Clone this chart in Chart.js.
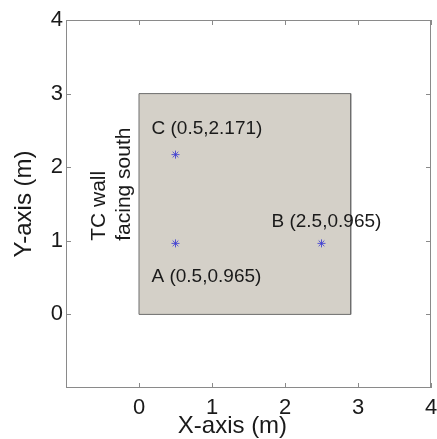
<!DOCTYPE html>
<html>
<head>
<meta charset="utf-8">
<script src="https://cdn.jsdelivr.net/npm/chart.js@4/dist/chart.umd.min.js"></script>
<style>
html,body{margin:0;padding:0;background:#fff;}
#wrap{width:437px;height:439px;}
</style>
</head>
<body>
<div id="wrap"><canvas id="c" width="437" height="439"></canvas></div>
<script>
// ---- data ----
const xTicks = [0, 1, 2, 3, 4];
const yTicks = [0, 1, 2, 3, 4];
const xRange = [-1, 4];
const yRange = [-1, 4];
const wallX = [0, 0, 2.9, 2.9, 0];
const wallY = [0, 3, 3, 0, 0];
const pointX = [0.5, 2.5, 0.5];
const pointY = [0.965, 0.965, 2.171];
const pointLabels = ['A (0.5,0.965)', 'B (2.5,0.965)', 'C (0.5,2.171)'];
const wallNoteLines = ['TC wall', 'facing south'];
const wallNoteX = [-0.55, -0.2];
const wallNoteY = [1, 1];
const xTitle = 'X-axis (m)';
const yTitle = 'Y-axis (m)';

// ---- styles (offsets in px, not data) ----
const labelOffsets = [[-24, 33], [-50, -22], [-24, -26]];
const FONT = "'Liberation Sans', Arial, sans-serif";
const TXT = '#1a1a1a';
const xTitleCenterValue = 1.28;

const wallPts = wallX.map((x, i) => ({x: x, y: wallY[i]}));

const annot = {
  id: 'annot',
  afterDatasetsDraw(chart) {
    const ctx = chart.ctx, xs = chart.scales.x, ys = chart.scales.y;
    ctx.save();
    ctx.fillStyle = TXT;
    ctx.font = '19px ' + FONT;
    ctx.textAlign = 'left';
    ctx.textBaseline = 'middle';
    pointLabels.forEach((t, i) => {
      const px = xs.getPixelForValue(pointX[i]) + labelOffsets[i][0];
      const py = ys.getPixelForValue(pointY[i]) + labelOffsets[i][1];
      ctx.fillText(t, px, py);
    });
    ctx.font = '21px ' + FONT;
    wallNoteLines.forEach((t, i) => {
      const px = xs.getPixelForValue(wallNoteX[i]);
      const py = ys.getPixelForValue(wallNoteY[i]);
      ctx.save();
      ctx.translate(px, py);
      ctx.rotate(-Math.PI / 2);
      ctx.textAlign = 'left';
      ctx.textBaseline = 'middle';
      ctx.fillText(t, 0, 0);
      ctx.restore();
    });
    // x-axis title
    ctx.font = '24px ' + FONT;
    ctx.textAlign = 'center';
    ctx.textBaseline = 'middle';
    ctx.fillText(xTitle, xs.getPixelForValue(xTitleCenterValue), chart.height - 13);
    // frame and inward ticks
    const a = chart.chartArea;
    ctx.strokeStyle = '#8a8a8a';
    ctx.lineWidth = 1;
    ctx.strokeRect(Math.round(a.left) + 0.5, Math.round(a.top) + 0.5,
                   Math.round(a.right - a.left) - 1, Math.round(a.bottom - a.top) - 1);
    const tl = 5;
    ctx.beginPath();
    xTicks.forEach(v => {
      const p = Math.round(xs.getPixelForValue(v)) + 0.5;
      ctx.moveTo(p, a.bottom); ctx.lineTo(p, a.bottom - tl);
      ctx.moveTo(p, a.top); ctx.lineTo(p, a.top + tl);
    });
    yTicks.forEach(v => {
      const p = Math.round(ys.getPixelForValue(v)) + 0.5;
      ctx.moveTo(a.left, p); ctx.lineTo(a.left + tl, p);
      ctx.moveTo(a.right, p); ctx.lineTo(a.right - tl, p);
    });
    ctx.stroke();
    ctx.restore();
  }
};

new Chart(document.getElementById('c'), {
  type: 'scatter',
  data: {
    datasets: [
      {
        type: 'line',
        label: 'wall fill',
        data: wallPts.slice(0, 4),
        fill: 'origin',
        backgroundColor: '#d4d0c8',
        borderWidth: 0,
        borderColor: 'rgba(0,0,0,0)',
        pointRadius: 0,
        tension: 0,
        order: 2
      },
      {
        type: 'line',
        label: 'wall',
        data: wallPts,
        fill: false,
        borderColor: '#6e6e6e',
        borderWidth: 1,
        pointRadius: 0,
        tension: 0,
        order: 1
      },
      {
        label: 'points',
        data: pointX.map((x, i) => ({x: x, y: pointY[i]})),
        pointStyle: 'star',
        pointRadius: 4,
        borderColor: 'rgba(60,60,210,0.85)',
        backgroundColor: 'rgba(60,60,210,0.85)',
        borderWidth: 1,
        order: 0
      }
    ]
  },
  options: {
    responsive: false,
    animation: false,
    events: [],
    layout: {padding: {top: 20, right: 6, left: 0, bottom: 0}},
    plugins: {legend: {display: false}, tooltip: {enabled: false}},
    scales: {
      x: {
        type: 'linear',
        min: xRange[0], max: xRange[1],
        afterBuildTicks: s => { s.ticks = xTicks.map(v => ({value: v})); },
        afterFit: s => { s.height = 51; s.paddingLeft = 0; s.paddingRight = 0; },
        grid: {display: false, drawTicks: false},
        border: {display: false},
        ticks: {padding: 7, color: TXT, font: {family: FONT, size: 22}, maxRotation: 0},
        title: {display: false}
      },
      y: {
        type: 'linear',
        min: yRange[0], max: yRange[1],
        afterBuildTicks: s => { s.ticks = yTicks.map(v => ({value: v})); },
        afterFit: s => { s.width = 66; s.paddingTop = 0; s.paddingBottom = 0; },
        grid: {display: false, drawTicks: false},
        border: {display: false},
        ticks: {padding: 3, color: TXT, font: {family: FONT, size: 22}},
        title: {display: true, text: yTitle, color: TXT, font: {family: FONT, size: 24}, padding: {top: 10, bottom: 0}}
      }
    }
  },
  plugins: [annot]
});
</script>
</body>
</html>
